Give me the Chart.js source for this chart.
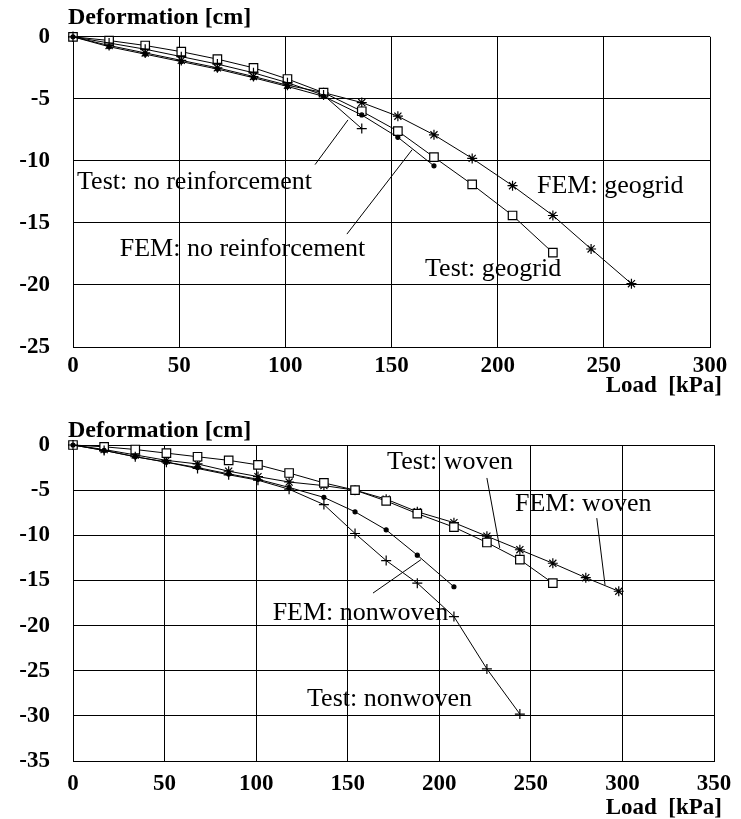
<!DOCTYPE html>
<html>
<head>
<meta charset="utf-8">
<script src="https://cdn.jsdelivr.net/npm/chart.js@4"></script>
<style>
  body { margin: 0; background: #fff; }
  canvas { position: absolute; left: 0; }
  #top { top: 0; }
  #bottom { top: 400px; }
</style>
</head>
<body>
<canvas id="top" width="741" height="400"></canvas>
<canvas id="bottom" width="741" height="419"></canvas>
<script>
// Load steps [kPa]
const loadTop = [0, 17, 34, 51, 68, 85, 101, 118, 136, 153, 170, 188, 207, 226, 244, 263];
const loadBottom = [0, 17, 34, 51, 68, 85, 101, 118, 137, 154, 171, 188, 208, 226, 244, 262, 280, 298];

// Deformation [cm], top chart
const testNoReinf = [0, -0.5, -1.0, -1.6, -2.2, -2.9, -3.7, -4.7, -7.4];
const femNoReinf = [0, -0.8, -1.4, -2.0, -2.6, -3.3, -4.0, -4.8, -6.3, -8.1, -10.4];
const testGeogrid = [0, -0.3, -0.7, -1.2, -1.8, -2.5, -3.4, -4.5, -6.0, -7.6, -9.7, -11.9, -14.4, -17.4];
const femGeogrid = [0, -0.7, -1.3, -1.9, -2.5, -3.2, -3.9, -4.5, -5.3, -6.4, -7.9, -9.8, -12.0, -14.4, -17.1, -19.9];

// Deformation [cm], bottom chart
const testWoven = [0, -0.2, -0.5, -0.9, -1.3, -1.7, -2.2, -3.1, -4.2, -5.0, -6.2, -7.6, -9.1, -10.8, -12.7, -15.3];
const femWoven = [0, -0.5, -1.1, -1.7, -2.1, -2.9, -3.5, -4.1, -4.5, -5.0, -6.0, -7.4, -8.6, -10.1, -11.6, -13.1, -14.7, -16.2];
const femNonwoven = [0, -0.6, -1.3, -1.9, -2.5, -3.2, -3.8, -4.7, -5.8, -7.4, -9.4, -12.2, -15.7];
const testNonwoven = [0, -0.6, -1.3, -1.9, -2.6, -3.3, -3.9, -4.9, -6.6, -9.8, -12.8, -15.3, -19.0, -24.8, -29.8];

// Curve labels: [text, load, deformation] and leader lines [x1, y1, x2, y2] in data units
const labelsTop = [
  ["Test: no reinforcement", 1.9, -11.75],
  ["FEM: no reinforcement", 22, -17.1],
  ["Test: geogrid", 165.8, -18.7],
  ["FEM: geogrid", 218.5, -12.0]
];
const leadersTop = [
  [114, -10.3, 129.5, -6.7],
  [129, -15.9, 159.7, -9.1]
];
const labelsBottom = [
  ["Test: woven", 171.5, -1.9],
  ["FEM: woven", 241.3, -6.6],
  ["FEM: nonwoven", 109, -18.6],
  ["Test: nonwoven", 127.8, -28.2]
];
const leadersBottom = [
  [226, -3.65, 233, -11.4],
  [286, -8.1, 290.5, -15.5],
  [163.8, -16.4, 190, -12.7]
];

function pts(xs, ys) {
  return ys.map((y, i) => ({ x: xs[i], y: y }));
}

function series(data, style, radius) {
  return {
    data: data,
    showLine: true,
    clip: false,
    borderColor: "#000",
    borderWidth: 1,
    pointStyle: style,
    pointRadius: radius,
    pointBorderColor: "#000",
    pointBorderWidth: 1.2,
    pointBackgroundColor: style === "circle" ? "#000" : "#fff"
  };
}

// Draws axis titles, curve labels and leader lines
const notes = {
  id: "notes",
  afterDraw(chart) {
    const o = chart.options.plugins.notes;
    const ctx = chart.ctx;
    const sx = chart.scales.x, sy = chart.scales.y;
    const area = chart.chartArea;
    ctx.save();
    ctx.fillStyle = "#000";
    ctx.strokeStyle = "#000";
    ctx.lineWidth = 1;
    ctx.textBaseline = "middle";
    ctx.font = "bold 24px 'Liberation Serif'";
    ctx.textAlign = "left";
    ctx.fillText("Deformation [cm]", area.left - 5, area.top - o.titleGap);
    ctx.font = "bold 23px 'Liberation Serif'";
    ctx.textAlign = "right";
    ctx.fillText("Load  [kPa]", o.loadX, o.loadY);
    ctx.textAlign = "left";
    ctx.font = "26px 'Liberation Serif'";
    o.labels.forEach(l => {
      ctx.fillText(l[0], sx.getPixelForValue(l[1]), sy.getPixelForValue(l[2]));
    });
    o.leaders.forEach(l => {
      ctx.beginPath();
      ctx.moveTo(sx.getPixelForValue(l[0]), sy.getPixelForValue(l[1]));
      ctx.lineTo(sx.getPixelForValue(l[2]), sy.getPixelForValue(l[3]));
      ctx.stroke();
    });
    ctx.restore();
  }
};

function makeChart(id, datasets, xMax, yMin, pad, xHeight, xPad, noteOpts) {
  return new Chart(id, {
    type: "scatter",
    data: { datasets: datasets },
    plugins: [notes],
    options: {
      responsive: false,
      animation: false,
      layout: { padding: { top: pad.top, right: pad.right, left: 0, bottom: 0 } },
      plugins: { legend: { display: false }, tooltip: { enabled: false }, notes: noteOpts },
      scales: {
        x: {
          min: 0, max: xMax,
          afterFit(s) { s.height = xHeight; },
          border: { color: "#000", width: 1 },
          grid: { color: "#000", lineWidth: 1, drawTicks: false },
          ticks: { stepSize: 50, padding: xPad, color: "#000", maxRotation: 0,
                   font: { family: "'Liberation Serif'", size: 23, weight: "bold" } }
        },
        y: {
          min: yMin, max: 0,
          afterFit(s) { s.width = 73; },
          border: { color: "#000", width: 1 },
          grid: { color: "#000", lineWidth: 1, drawTicks: false },
          ticks: { stepSize: 5, padding: 23, color: "#000",
                   font: { family: "'Liberation Serif'", size: 23, weight: "bold" } }
        }
      }
    }
  });
}

makeChart("top", [
  series(pts(loadTop, testNoReinf), "cross", 5),
  series(pts(loadTop, femNoReinf), "circle", 2),
  series(pts(loadTop, testGeogrid), "rect", 6),
  series(pts(loadTop, femGeogrid), "star", 5)
], 300, -25, { top: 32, right: 31 }, 53, 5,
  { titleGap: 19, loadX: 722, loadY: 386, labels: labelsTop, leaders: leadersTop });

makeChart("bottom", [
  series(pts(loadBottom, testNonwoven), "cross", 5),
  series(pts(loadBottom, femNonwoven), "circle", 2),
  series(pts(loadBottom, testWoven), "rect", 6),
  series(pts(loadBottom, femWoven), "star", 5)
], 350, -35, { top: 45, right: 27 }, 58, 9,
  { titleGap: 14, loadX: 722, loadY: 408, labels: labelsBottom, leaders: leadersBottom });
</script>
</body>
</html>
